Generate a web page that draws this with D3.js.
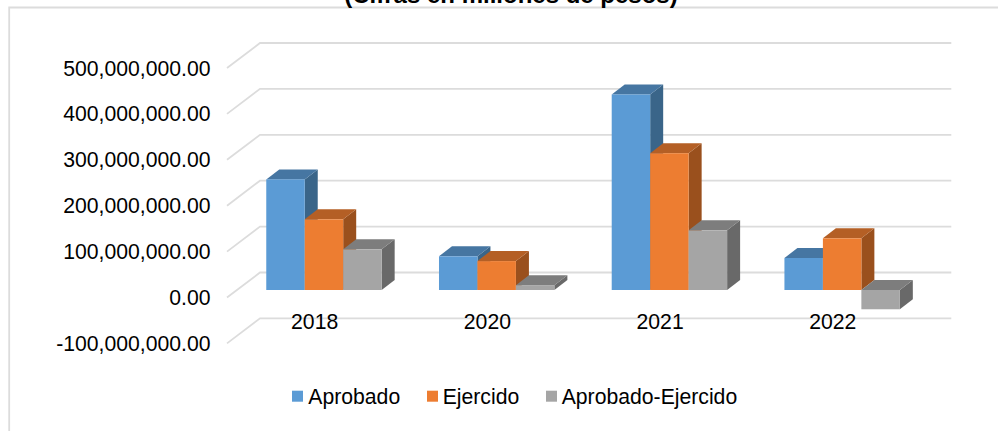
<!DOCTYPE html>
<html><head><meta charset="utf-8">
<style>html,body{margin:0;padding:0;background:#fff}svg{display:block}text{font-family:"Liberation Sans",Arial,sans-serif;fill:#000}</style>
<script src="https://d3js.org/d3.v7.min.js"></script></head>
<body><svg id="c" width="998" height="431"></svg>
<script>
const categories = ["2018","2020","2021","2022"];
const seriesNames = ["Aprobado","Ejercido","Aprobado-Ejercido"];
const aprobado = [241000000, 73400000, 426000000, 69700000];
const ejercido = [154000000, 63000000, 298000000, 112600000];
const diferencia = [88600000, 10500000, 130000000, -42000000];
const tickValues = [-100000000,0,100000000,200000000,300000000,400000000,500000000];
const titleText = "(Cifras en millones de pesos)";
const frontColors = ["#5B9BD5","#ED7D31","#A5A5A5"];
const topColors = ["#4676A2","#B45F25","#7D7D7D"];
const sideColors = ["#3A6589","#9A501D","#696969"];
const seriesValues = [aprobado, ejercido, diferencia];

const svg = d3.select("#c");
const y = d3.scaleLinear().domain([0,500000000]).range([290,60.5]);
const x = d3.scaleBand().domain(categories).range([228.3,919.2]);
const inner = d3.scaleBand().domain(d3.range(3)).range([-48.4,67]);
const GX0=227, GX1=260, GX2=951.3, GFRONT=7.5, GBACK=-17.5, DX=13, DY=10;
const FS=21.2;

// frame
svg.append("path").attr("d","M998,7.5H9.2V431").attr("fill","none").attr("stroke","#dcdcdc").attr("stroke-width",1.8);
// title
svg.append("text").attr("x",511).attr("y",3).attr("text-anchor","middle").attr("font-weight","bold").attr("font-size",24).text(titleText);
// wall gridlines
svg.append("g").selectAll("path").data(tickValues).join("path")
 .attr("d",v=>`M${GX0},${y(v)+GFRONT}L${GX1},${y(v)+GBACK}H${GX2}`)
 .attr("fill","none").attr("stroke","#dcdcdc").attr("stroke-width",1.8);
// y labels
const fmt = d3.format(",.2f");
svg.append("g").selectAll("text").data(tickValues).join("text")
 .attr("x",210.5).attr("y",v=>y(v)+15).attr("text-anchor","end").attr("font-size",FS)
 .text(v=>fmt(v).replace("\u2212","-"));
// bars
const bars = svg.append("g");
categories.forEach((c,ci)=>{
  seriesValues.forEach((vals,si)=>{
    const v=vals[ci];
    const l=x(c)+x.bandwidth()/2+inner(si), r=l+inner.bandwidth();
    const yt=y(Math.max(v,0)), yb=y(Math.min(v,0));
    const g=bars.append("g");
    g.append("path").attr("fill",sideColors[si]).attr("d",`M${r},${yt}L${r+DX},${yt-DY}V${yb-DY}L${r},${yb}Z`);
    g.append("path").attr("fill",topColors[si]).attr("d",`M${l},${yt}L${l+DX},${yt-DY}H${r+DX}L${r},${yt}Z`);
    g.append("rect").attr("fill",frontColors[si]).attr("x",l).attr("y",yt).attr("width",r-l).attr("height",yb-yt);
  });
});
// category labels
svg.append("g").selectAll("text").data(categories).join("text")
 .attr("x",c=>x(c)+x.bandwidth()/2).attr("y",328.5).attr("text-anchor","middle").attr("font-size",FS).text(c=>c);
// legend
const legendX=[292,427,546], legendTextX=[308.3,442.7,561.7];
const lg=svg.append("g");
seriesNames.forEach((n,i)=>{
  lg.append("rect").attr("x",legendX[i]).attr("y",390.7).attr("width",11).attr("height",11).attr("fill",frontColors[i]);
  lg.append("text").attr("x",legendTextX[i]).attr("y",403.5).attr("font-size",FS).text(n);
});
</script></body></html>
